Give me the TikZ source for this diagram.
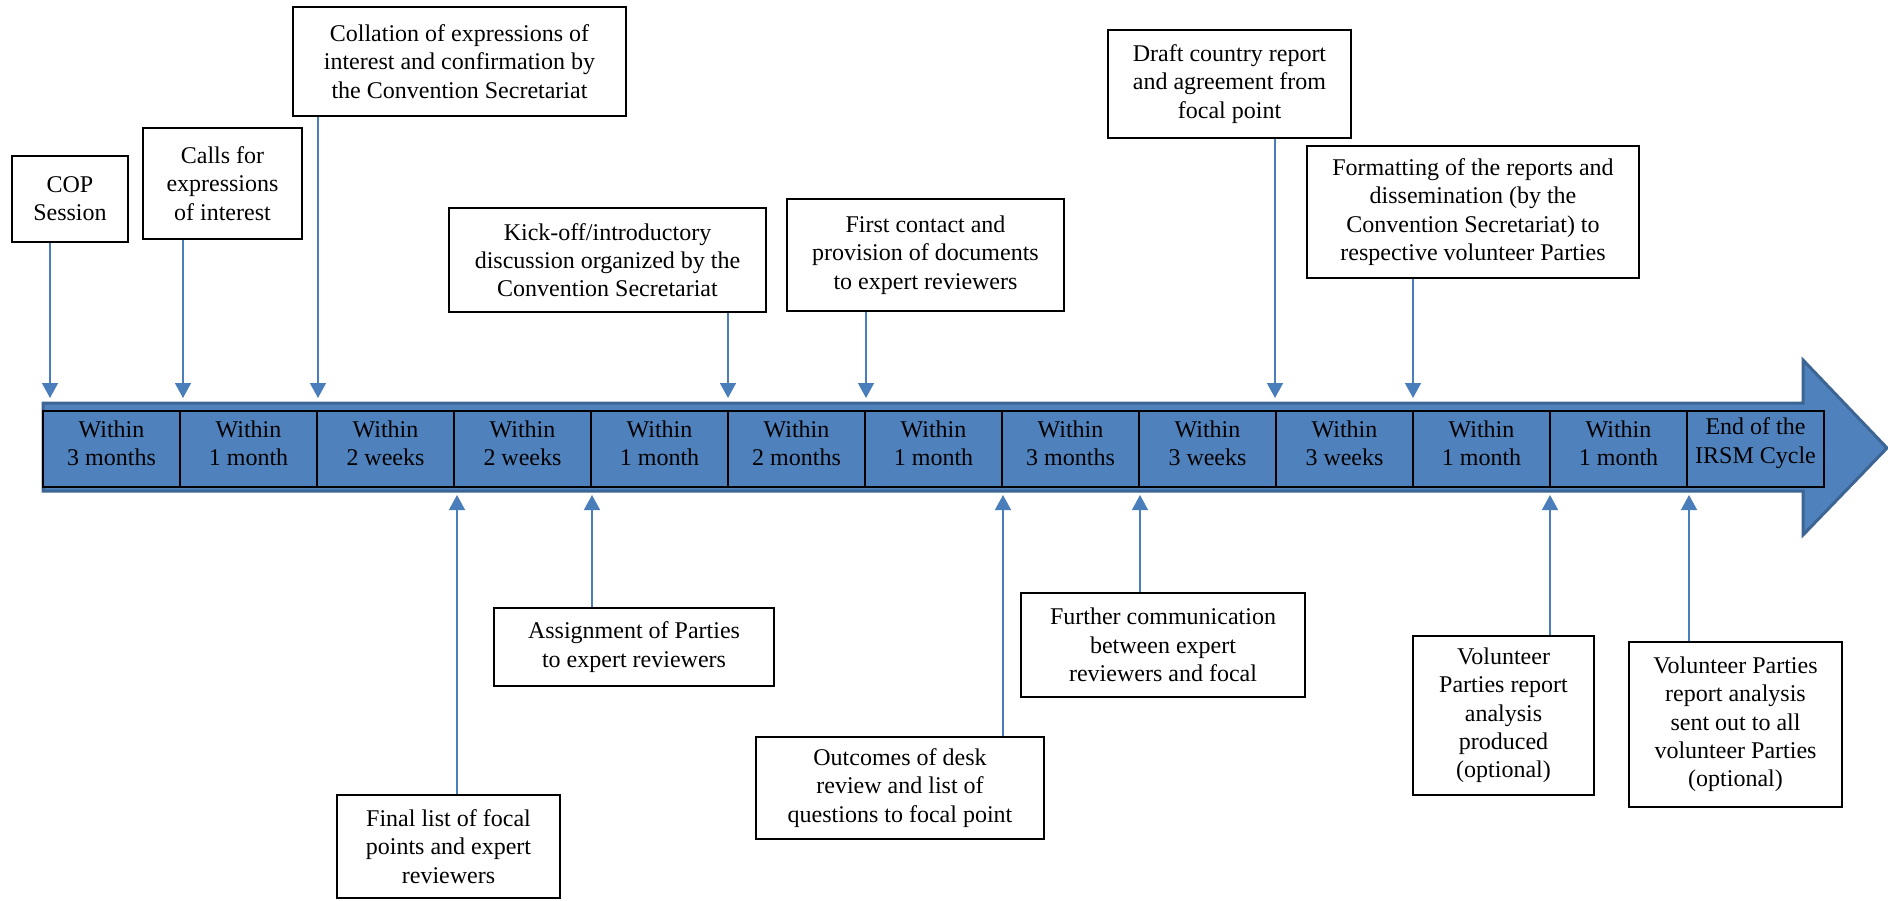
\documentclass[tikz,border=0pt]{standalone}
\usepackage{fontspec}
\setmainfont{Liberation Serif}
\usetikzlibrary{arrows.meta}
\definecolor{barblue}{HTML}{4F81BD}
\definecolor{baredge}{HTML}{3D6593}
\definecolor{connblue}{HTML}{4A7EBB}
\newcommand\tlbox[6]{\node[tbox, minimum width={(#3-#2)*0.5pt}, minimum height={(#5-#4)*0.5pt}] (#1) at ({(#2+#3)/2},{(#4+#5)/2}) {#6};}
\tikzset{
  tbox/.style={draw=black, line width=0.8pt, fill=white, align=center, inner sep=0pt},
  conn/.style={draw=connblue, line width=0.75pt, -{Triangle[length=7.5pt,width=8pt]}},
  cell/.style={draw=black, line width=0.75pt, fill=barblue},
  celltxt/.style={align=center, inner sep=0pt, text=black},
}
\begin{document}
\begin{tikzpicture}[x=0.5pt,y=-0.5pt, font=\fontsize{12}{14.15}\selectfont]
\useasboundingbox (0,0) rectangle (1888,900);
\fill[white] (0,0) rectangle (1888,900);
% timeline arrow
\draw[fill=barblue, draw=baredge, line width=1.5pt, line join=miter]
  (43,403) -- (1803,403) -- (1803,360) -- (1887,448) -- (1803,535) -- (1803,491) -- (43,491) -- cycle;
\foreach [count=\k from 0] \t in {{Within\\3 months},{Within\\1 month},{Within\\2 weeks},{Within\\2 weeks},{Within\\1 month},{Within\\2 months},{Within\\1 month},{Within\\3 months},{Within\\3 weeks},{Within\\3 weeks},{Within\\1 month},{Within\\1 month},{End of the\\IRSM Cycle}} {
  \draw[cell] ({43+137*\k},411) rectangle ({43+137*(\k+1)},487);
  \node[celltxt] (c\k) at ({43+137*\k+68.5},443) {\t};
}
% top boxes
\tlbox{cop}{12}{128}{156}{242}{COP\\Session}
\tlbox{calls}{143}{302}{128}{239}{Calls for\\expressions\\of interest}
\tlbox{coll}{293}{626}{7}{116}{Collation of expressions of\\interest and confirmation by\\the Convention Secretariat}
\tlbox{kick}{449}{766}{208}{312}{Kick-off/introductory\\discussion organized by the\\Convention Secretariat}
\tlbox{first}{787}{1064}{199}{311}{First contact and\\provision of documents\\to expert reviewers}
\tlbox{draft}{1108}{1351}{30}{138}{Draft country report\\and agreement from\\focal point}
\tlbox{fmt}{1307}{1639}{146}{278}{Formatting of the reports and\\dissemination (by the\\Convention Secretariat) to\\respective volunteer Parties}
% bottom boxes
\tlbox{final}{337}{560}{795}{898}{Final list of focal\\points and expert\\reviewers}
\tlbox{assign}{494}{774}{608}{686}{Assignment of Parties\\to expert reviewers}
\tlbox{outc}{756}{1044}{737}{839}{Outcomes of desk\\review and list of\\questions to focal point}
\tlbox{further}{1021}{1305}{593}{697}{Further communication\\between expert\\reviewers and focal}
\tlbox{vola}{1413}{1594}{636}{795}{Volunteer\\Parties report\\analysis\\produced\\(optional)}
\tlbox{volb}{1629}{1842}{642}{807}{Volunteer Parties\\report analysis\\sent out to all\\volunteer Parties\\(optional)}
% connector end points
\coordinate (a1) at (50,398);
\coordinate (a2) at (183,398);
\coordinate (a3) at (318,398);
\coordinate (a4) at (728,398);
\coordinate (a5) at (866,398);
\coordinate (a6) at (1275,398);
\coordinate (a7) at (1413,398);
\coordinate (b1) at (457,495);
\coordinate (b2) at (592,495);
\coordinate (b3) at (1003,495);
\coordinate (b4) at (1140,495);
\coordinate (b5) at (1550,495);
\coordinate (b6) at (1689,495);
\draw[conn] (cop.south -| a1) -- (a1);
\draw[conn] (calls.south -| a2) -- (a2);
\draw[conn] (coll.south -| a3) -- (a3);
\draw[conn] (kick.south -| a4) -- (a4);
\draw[conn] (first.south -| a5) -- (a5);
\draw[conn] (draft.south -| a6) -- (a6);
\draw[conn] (fmt.south -| a7) -- (a7);
\draw[conn] (final.north -| b1) -- (b1);
\draw[conn] (assign.north -| b2) -- (b2);
\draw[conn] (outc.north -| b3) -- (b3);
\draw[conn] (further.north -| b4) -- (b4);
\draw[conn] (vola.north -| b5) -- (b5);
\draw[conn] (volb.north -| b6) -- (b6);
\end{tikzpicture}
\end{document}
